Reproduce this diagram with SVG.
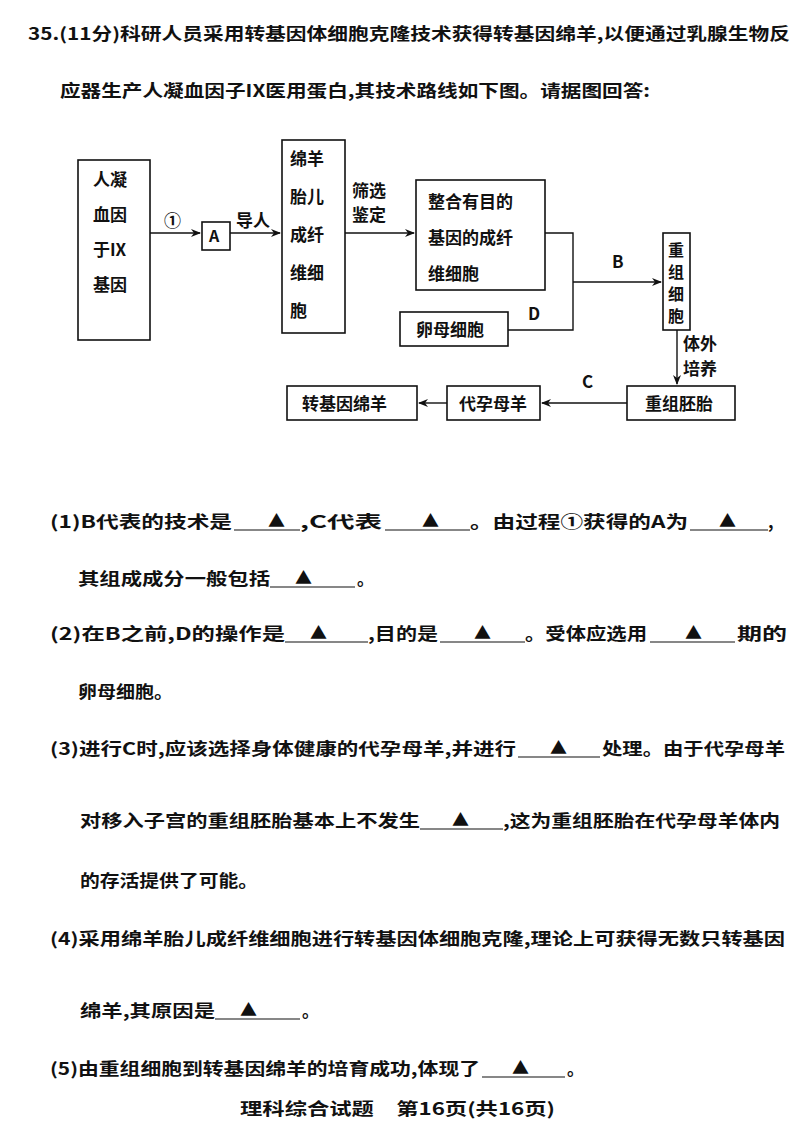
<svg xmlns="http://www.w3.org/2000/svg" width="800" height="1132" viewBox="0 0 800 1132">
<style>
text{font-family:"Noto Sans CJK SC","Liberation Serif",serif;font-weight:bold;fill:#111;font-size:17px}
.t{font-size:16px}
.b{fill:#fff;stroke:#111;stroke-width:1.6}
.l{stroke:#111;stroke-width:1.4;fill:none}
.u{stroke:#111;stroke-width:1.2}
</style>
<defs><marker id="ar" markerWidth="10" markerHeight="8" refX="9" refY="4" orient="auto" markerUnits="userSpaceOnUse"><path d="M0,0 L10,4 L0,8 L3,4 Z" fill="#111"/></marker></defs>
<rect width="800" height="1132" fill="#fff"/>
<text x="28" y="40" textLength="762" lengthAdjust="spacingAndGlyphs">35.(11分)科研人员采用转基因体细胞克隆技术获得转基因绵羊,以便通过乳腺生物反</text>
<text x="60" y="97" textLength="590" lengthAdjust="spacingAndGlyphs">应器生产人凝血因子IX医用蛋白,其技术路线如下图。请据图回答:</text>

<g id="connectors">
<path class="l" d="M150,233 H200" marker-end="url(#ar)"/>
<path class="l" d="M230,233 H280" marker-end="url(#ar)"/>
<path class="l" d="M345,233 H414" marker-end="url(#ar)"/>
<path class="l" d="M545,233 H573 V330 H508"/>
<path class="l" d="M573,282 H661" marker-end="url(#ar)"/>
<path class="l" d="M677,330 V384" marker-end="url(#ar)"/>
<path class="l" d="M627,403 H542" marker-end="url(#ar)"/>
<path class="l" d="M447,403 H419" marker-end="url(#ar)"/>
<text x="164" y="227">①</text>
<text x="236" y="227">导人</text>
<text x="352" y="197">筛选</text>
<text x="352" y="221">鉴定</text>
<text x="612" y="268">B</text>
<text x="528" y="320">D</text>
<text x="683" y="350">体外</text>
<text x="683" y="375">培养</text>
<text x="582" y="388">C</text>
</g>
<g id="gene"><rect class="b" x="78" y="160" width="72" height="180"/>
<text x="93" y="186">人凝</text><text x="93" y="221">血因</text><text x="93" y="256">于IX</text><text x="93" y="291">基因</text></g>
<g id="A"><rect class="b" x="202" y="222" width="28" height="28"/><text x="209" y="242" class="t">A</text></g>
<g id="fib"><rect class="b" x="282" y="140" width="63" height="193"/>
<text x="290" y="165">绵羊</text><text x="290" y="203">胎儿</text><text x="290" y="241">成纤</text><text x="290" y="279">维细</text><text x="290" y="317">胞</text></g>
<g id="intfib"><rect class="b" x="416" y="180" width="129" height="110"/>
<text x="428" y="208">整合有目的</text><text x="428" y="244">基因的成纤</text><text x="428" y="280">维细胞</text></g>
<g id="oocyte"><rect class="b" x="400" y="312" width="108" height="34"/><text x="416" y="336">卵母细胞</text></g>
<g id="recell"><rect class="b" x="663" y="233" width="27" height="97"/>
<text x="668" y="256" class="t">重</text><text x="668" y="278" class="t">组</text><text x="668" y="300" class="t">细</text><text x="668" y="322" class="t">胞</text></g>
<g id="embryo"><rect class="b" x="627" y="386" width="108" height="34"/><text x="645" y="410">重组胚胎</text></g>
<g id="surrogate"><rect class="b" x="447" y="386" width="93" height="34"/><text x="459" y="410">代孕母羊</text></g>
<g id="transgenic"><rect class="b" x="287" y="386" width="130" height="34"/><text x="302" y="410">转基因绵羊</text></g>

<g id="questions">
<text x="50" y="528" textLength="182" lengthAdjust="spacingAndGlyphs">(1)B代表的技术是</text>
<line class="u" x1="234" y1="530" x2="300" y2="530"/><text x="268" y="527">▲</text>
<text x="300" y="528" textLength="82" lengthAdjust="spacingAndGlyphs">,C代表</text>
<line class="u" x1="385" y1="530" x2="470" y2="530"/><text x="422" y="527">▲</text>
<text x="470" y="528" textLength="218" lengthAdjust="spacingAndGlyphs">。由过程①获得的A为</text>
<line class="u" x1="690" y1="530" x2="768" y2="530"/><text x="719" y="527">▲</text>
<text x="768" y="528">,</text>

<text x="78" y="585" textLength="192" lengthAdjust="spacingAndGlyphs">其组成成分一般包括</text>
<line class="u" x1="270" y1="587" x2="355" y2="587"/><text x="295" y="584">▲</text>
<text x="357" y="585">。</text>

<text x="50" y="640" textLength="235" lengthAdjust="spacingAndGlyphs">(2)在B之前,D的操作是</text>
<line class="u" x1="285" y1="642" x2="368" y2="642"/><text x="310" y="639">▲</text>
<text x="368" y="640" textLength="70" lengthAdjust="spacingAndGlyphs">,目的是</text>
<line class="u" x1="440" y1="642" x2="525" y2="642"/><text x="474" y="639">▲</text>
<text x="525" y="640" textLength="122" lengthAdjust="spacingAndGlyphs">。受体应选用</text>
<line class="u" x1="650" y1="642" x2="735" y2="642"/><text x="685" y="639">▲</text>
<text x="737" y="640" textLength="50" lengthAdjust="spacingAndGlyphs">期的</text>

<text x="78" y="698" textLength="95" lengthAdjust="spacingAndGlyphs">卵母细胞。</text>

<text x="50" y="755" textLength="466" lengthAdjust="spacingAndGlyphs">(3)进行C时,应该选择身体健康的代孕母羊,并进行</text>
<line class="u" x1="518" y1="757" x2="600" y2="757"/><text x="550" y="754">▲</text>
<text x="602" y="755" textLength="183" lengthAdjust="spacingAndGlyphs">处理。由于代孕母羊</text>

<text x="80" y="827" textLength="340" lengthAdjust="spacingAndGlyphs">对移入子宫的重组胚胎基本上不发生</text>
<line class="u" x1="420" y1="829" x2="503" y2="829"/><text x="452" y="826">▲</text>
<text x="503" y="827" textLength="277" lengthAdjust="spacingAndGlyphs">,这为重组胚胎在代孕母羊体内</text>

<text x="80" y="887" textLength="178" lengthAdjust="spacingAndGlyphs">的存活提供了可能。</text>

<text x="50" y="945" textLength="735" lengthAdjust="spacingAndGlyphs">(4)采用绵羊胎儿成纤维细胞进行转基因体细胞克隆,理论上可获得无数只转基因</text>

<text x="80" y="1017" textLength="135" lengthAdjust="spacingAndGlyphs">绵羊,其原因是</text>
<line class="u" x1="215" y1="1019" x2="300" y2="1019"/><text x="240" y="1016">▲</text>
<text x="302" y="1017">。</text>

<text x="50" y="1075" textLength="430" lengthAdjust="spacingAndGlyphs">(5)由重组细胞到转基因绵羊的培育成功,体现了</text>
<line class="u" x1="482" y1="1077" x2="565" y2="1077"/><text x="512" y="1074">▲</text>
<text x="567" y="1075">。</text>

<text x="240" y="1115" textLength="315" lengthAdjust="spacingAndGlyphs">理科综合试题　第16页(共16页)</text>
</g>
</svg>
